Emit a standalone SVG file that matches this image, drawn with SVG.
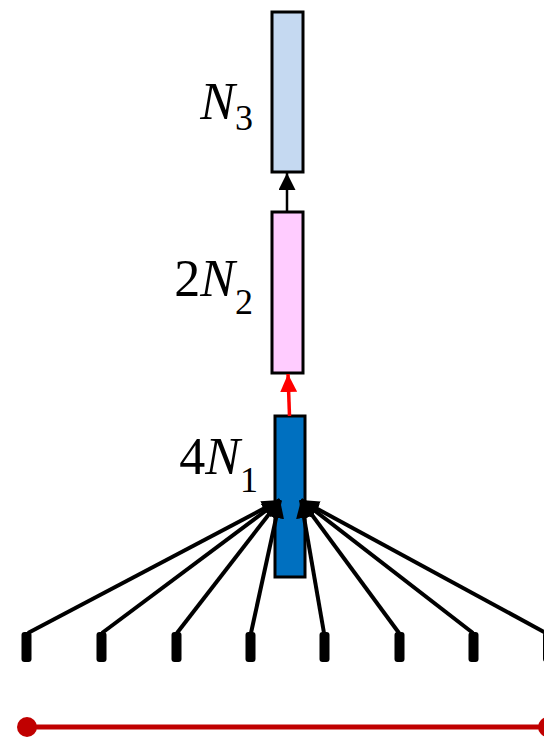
<svg xmlns="http://www.w3.org/2000/svg" width="544" height="742" viewBox="0 0 544 742">
<style>
.box{stroke:#000;stroke-width:3}
.lbl{font-family:"Liberation Serif","DejaVu Serif",serif;font-size:52px;fill:#000}
.sub{font-size:36px;font-style:normal}
.fan{stroke:#000;stroke-width:4;fill:none;marker-end:url(#ah)}
.term{fill:#000}
</style>
<defs>
<marker id="ah" markerUnits="userSpaceOnUse" markerWidth="20" markerHeight="18" refX="18" refY="8" orient="auto"><path d="M0,0 L18,8 L0,16 Z" fill="#000"/></marker>
<marker id="ahb" markerUnits="userSpaceOnUse" markerWidth="18" markerHeight="18" refX="17" refY="8.5" orient="auto"><path d="M0,0 L17,8.5 L0,17 Z" fill="#000"/></marker>
<marker id="ahr" markerUnits="userSpaceOnUse" markerWidth="19" markerHeight="18" refX="18" refY="8.5" orient="auto"><path d="M0,0 L18,8.5 L0,17 Z" fill="#FF0000"/></marker>
</defs>
<g id="n3">
<rect class="box" x="272" y="12" width="31" height="160" fill="#C5D9F1"/>
<text class="lbl" x="253" y="119" text-anchor="end"><tspan font-style="italic">N</tspan><tspan class="sub" dy="11">3</tspan></text>
</g>
<g id="n2">
<rect class="box" x="272" y="212" width="31" height="161" fill="#FFCCFF"/>
<text class="lbl" x="253" y="296" text-anchor="end">2<tspan font-style="italic">N</tspan><tspan class="sub" dy="18">2</tspan></text>
</g>
<g id="n1">
<rect class="box" x="275" y="416" width="30" height="161" fill="#0070C0"/>
<text class="lbl" x="258" y="474" text-anchor="end">4<tspan font-style="italic">N</tspan><tspan class="sub" dy="18">1</tspan></text>
</g>
<g id="inputs">
<rect class="term" x="21.5" y="632" width="10" height="30" rx="3"/>
<rect class="term" x="96.5" y="632" width="10" height="30" rx="3"/>
<rect class="term" x="171.5" y="632" width="10" height="30" rx="3"/>
<rect class="term" x="245.5" y="632" width="10" height="30" rx="3"/>
<rect class="term" x="319.5" y="632" width="10" height="30" rx="3"/>
<rect class="term" x="394.5" y="632" width="10" height="30" rx="3"/>
<rect class="term" x="468.5" y="632" width="10" height="30" rx="3"/>
<rect class="term" x="543" y="632" width="10" height="30" rx="3"/>
</g>
<g id="axis">
<line x1="27" y1="727" x2="546" y2="727" stroke="#C00000" stroke-width="5"/>
<circle cx="27" cy="727" r="10" fill="#C00000"/>
<circle cx="548" cy="727" r="10" fill="#C00000"/>
</g>
<g id="connectors">
<line x1="287" y1="212" x2="287" y2="173" stroke="#000" stroke-width="2.5" marker-end="url(#ahb)"/>
<line x1="289.5" y1="416" x2="288" y2="374" stroke="#FF0000" stroke-width="3.5" marker-end="url(#ahr)"/>
<line class="fan" x1="28" y1="633" x2="280" y2="500"/>
<line class="fan" x1="102" y1="633" x2="280" y2="500"/>
<line class="fan" x1="177" y1="633" x2="280" y2="500"/>
<line class="fan" x1="251" y1="633" x2="280" y2="500"/>
<line class="fan" x1="324" y1="633" x2="301" y2="500"/>
<line class="fan" x1="399" y1="633" x2="301" y2="500"/>
<line class="fan" x1="473" y1="633" x2="301" y2="500"/>
<line class="fan" x1="546" y1="633" x2="301" y2="500"/>
</g>
</svg>
